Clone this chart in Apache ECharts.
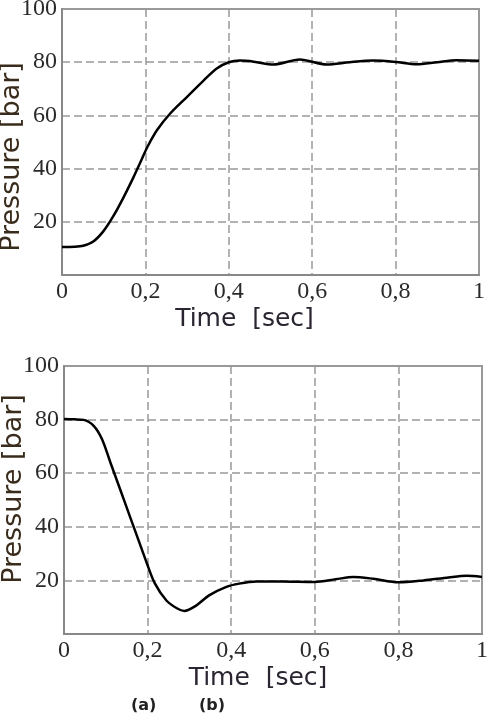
<!DOCTYPE html>
<html>
<head>
<meta charset="utf-8">
<script src="https://cdn.jsdelivr.net/npm/echarts@6/dist/echarts.min.js"></script>
<style>
  html, body { margin: 0; padding: 0; background: #fff; }
  #chart { width: 492px; height: 720px; }
</style>
</head>
<body>
<div id="chart"></div>
<script>
// time [sec] and pressure [bar]
const timeA = [0, 0.03, 0.051, 0.075, 0.099, 0.123, 0.147, 0.171, 0.191, 0.205, 0.228, 0.26, 0.3, 0.34, 0.372, 0.4, 0.427, 0.46, 0.507, 0.57, 0.635, 0.69, 0.746, 0.8, 0.85, 0.9, 0.946, 1.0];
const pressureA = [10.5, 10.6, 11, 12.6, 16.4, 22.1, 29, 36.6, 43.4, 48.2, 54.5, 60.8, 67, 73.2, 77.7, 80, 80.6, 80.2, 79.1, 81, 79.1, 80, 80.6, 80.1, 79.2, 80, 80.7, 80.5];

const timeB = [0, 0.025, 0.047, 0.071, 0.091, 0.111, 0.134, 0.158, 0.178, 0.198, 0.217, 0.245, 0.27, 0.288, 0.316, 0.347, 0.387, 0.419, 0.46, 0.52, 0.6, 0.65, 0.692, 0.74, 0.8, 0.86, 0.92, 0.963, 1.0];
const pressureB = [80.2, 80.1, 79.9, 77.7, 72.7, 64, 54.1, 43.7, 35.1, 26.5, 19, 12.5, 9.6, 8.6, 10.6, 14.4, 17.5, 18.8, 19.6, 19.6, 19.4, 20.4, 21.3, 20.6, 19.3, 20, 21.1, 21.7, 21.3];

const xTicks = [0, 0.2, 0.4, 0.6, 0.8, 1];
const yTicks = [20, 40, 60, 80, 100];
const panelLabels = ['(a)', '(b)'];

const serif = '"Liberation Serif", "DejaVu Serif", serif';
const sans = '"DejaVu Sans", sans-serif';

const pair = (xs, ys) => xs.map((x, i) => [x, ys[i]]);
const fmtX = v => {
  const r = Math.round(v * 10) / 10;
  return xTicks.includes(r) ? String(r).replace('.', ',') : '';
};
const fmtY = v => (yTicks.includes(Math.round(v)) ? String(Math.round(v)) : '');

const grids = [
  { left: 62, top: 9, width: 417, height: 266 },
  { left: 64, top: 366, width: 418, height: 268 }
];

const gridLine = {
  show: true,
  lineStyle: { color: '#999', width: 1.5, type: [8, 4] }
};

const makeX = (idx, pad) => ({
  type: 'value',
  gridIndex: idx,
  min: 0,
  max: 1,
  interval: 0.2,
  axisLine: { show: true, onZero: false, lineStyle: { color: '#888', width: 2 } },
  axisTick: { show: false },
  splitLine: gridLine,
  axisLabel: {
    formatter: fmtX,
    fontFamily: serif,
    fontSize: 24,
    color: '#2a2a2a',
    margin: 5
  },
  name: 'Time  [sec]',
  nameLocation: 'middle',
  nameMoveOverlap: false,
  nameGap: 32,
  nameTextStyle: { fontFamily: sans, fontSize: 25, color: '#2a2530', padding: pad }
});

const makeY = (idx, pad) => ({
  type: 'value',
  gridIndex: idx,
  min: 0,
  max: 100,
  interval: 20,
  axisLine: { show: true, lineStyle: { color: '#888', width: 2 } },
  axisTick: { show: false },
  splitLine: gridLine,
  axisLabel: {
    formatter: fmtY,
    showMinLabel: false,
    fontFamily: serif,
    fontSize: 24,
    color: '#2a2a2a',
    margin: 5
  },
  name: 'Pressure [bar]',
  nameLocation: 'middle',
  nameRotate: 90,
  nameMoveOverlap: false,
  nameGap: 37,
  nameTextStyle: { fontFamily: sans, fontSize: 27, color: '#3a2c1c', padding: pad }
});

const chart = echarts.init(document.getElementById('chart'));
chart.setOption({
  backgroundColor: '#fff',
  animation: false,
  title: [
    { text: panelLabels[0], left: 126, top: 693, textStyle: { fontFamily: sans, fontSize: 16, fontWeight: 'bold', color: '#222' } },
    { text: panelLabels[1], left: 194, top: 693, textStyle: { fontFamily: sans, fontSize: 16, fontWeight: 'bold', color: '#222' } }
  ],
  grid: grids.map(g => Object.assign({
    show: true, borderColor: '#999', borderWidth: 2,
    containLabel: false, outerBoundsMode: 'none'
  }, g)),
  xAxis: [makeX(0, [0, 52, 0, 0]), makeX(1, [0, 30, 0, 0])],
  yAxis: [makeY(0, [0, 30, 0, 0]), makeY(1, [0, 0, 0, 22])],
  series: [
    {
      type: 'line',
      xAxisIndex: 0,
      yAxisIndex: 0,
      smooth: 0.3,
      showSymbol: false,
      lineStyle: { color: '#000', width: 2.5 },
      data: pair(timeA, pressureA)
    },
    {
      type: 'line',
      xAxisIndex: 1,
      yAxisIndex: 1,
      smooth: 0.3,
      showSymbol: false,
      lineStyle: { color: '#000', width: 2.5 },
      data: pair(timeB, pressureB)
    }
  ]
});
</script>
</body>
</html>
